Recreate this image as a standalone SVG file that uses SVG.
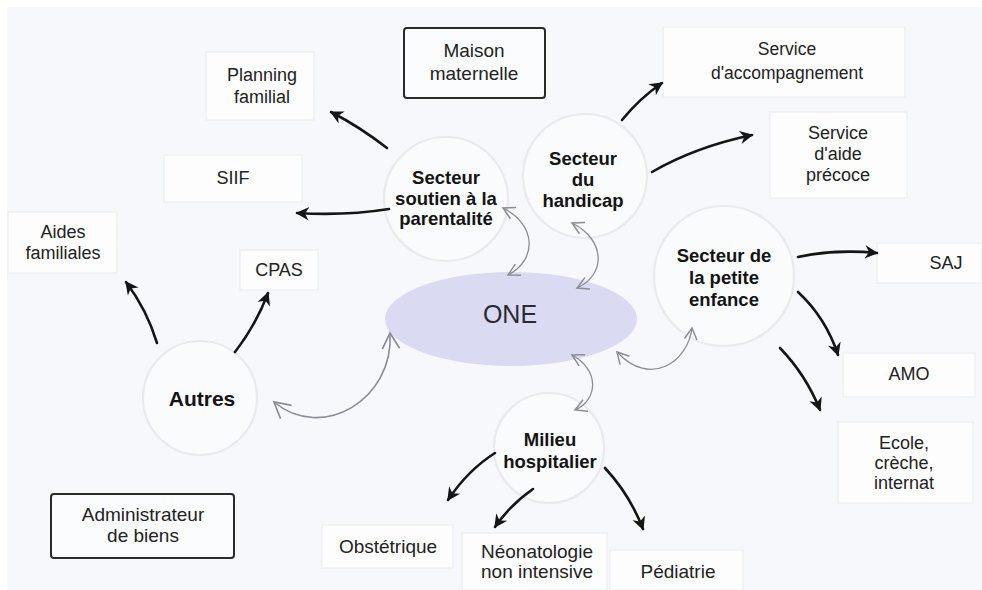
<svg xmlns="http://www.w3.org/2000/svg" width="982" height="590" viewBox="0 0 982 590">
<defs>
<style>
.t{font-family:"Liberation Sans",Arial,sans-serif;font-size:18px;fill:#222;text-anchor:middle}
.b{font-family:"Liberation Sans",Arial,sans-serif;font-size:18.5px;font-weight:bold;fill:#141414;text-anchor:middle}
.box{fill:#fdfdfe;stroke:#eff0f3;stroke-width:1.5}
.dbox{fill:#fbfcfe;stroke:#2a2a2a;stroke-width:2}
.circ{fill:#fafbfd;stroke:#e9eaee;stroke-width:2.2}
.arr{fill:none;stroke:#151515;stroke-width:2.6;stroke-linecap:round;marker-end:url(#ah)}
.gar{fill:none;stroke:#8c8d93;stroke-width:1.3;marker-start:url(#gh);marker-end:url(#gh)}
</style>
<marker id="ah" markerUnits="userSpaceOnUse" markerWidth="16" markerHeight="16" viewBox="0 0 12 12" refX="10" refY="6" orient="auto">
<path d="M1,1 L11,6 L1,11 L4,6 z" fill="#151515"/>
</marker>
<marker id="gh" markerUnits="userSpaceOnUse" markerWidth="16" markerHeight="16" viewBox="0 0 14 14" refX="12" refY="7" orient="auto-start-reverse">
<path d="M2,1.5 L12,7 L2,12.5" fill="none" stroke="#8c8d93" stroke-width="1.3"/>
</marker>
<marker id="gh2" markerUnits="userSpaceOnUse" markerWidth="22" markerHeight="22" viewBox="0 0 14 14" refX="12" refY="7" orient="auto-start-reverse">
<path d="M2,1.5 L12,7 L2,12.5" fill="none" stroke="#8c8d93" stroke-width="1.1"/>
</marker>
</defs>
<rect x="0" y="0" width="982" height="590" fill="#ffffff"/>
<rect x="7" y="7" width="975" height="583" fill="#f6f8fc"/>

<g id="one">
<ellipse cx="511" cy="319" rx="126" ry="47" fill="#dadbf2"/>
<text x="510" y="323" class="t" style="font-size:25px;fill:#2a2a33">ONE</text>
</g>

<g id="secteur-parentalite">
<circle cx="446" cy="199" r="62" class="circ"/>
<text class="b" x="446" y="184">Secteur</text>
<text class="b" x="446" y="205">soutien à la</text>
<text class="b" x="446" y="225">parentalité</text>
</g>
<g id="secteur-handicap">
<circle cx="585" cy="176" r="62" class="circ"/>
<text class="b" x="583" y="165">Secteur</text>
<text class="b" x="583" y="186">du</text>
<text class="b" x="583" y="207">handicap</text>
</g>
<g id="secteur-petite-enfance">
<circle cx="724" cy="276" r="70" class="circ"/>
<text class="b" x="724" y="262">Secteur de</text>
<text class="b" x="724" y="284">la petite</text>
<text class="b" x="724" y="306">enfance</text>
</g>
<g id="autres">
<circle cx="200" cy="398" r="57" class="circ"/>
<text class="b" x="202" y="406" style="font-size:21px">Autres</text>
</g>
<g id="milieu-hospitalier">
<circle cx="549" cy="448" r="55" class="circ"/>
<text class="b" x="550" y="446">Milieu</text>
<text class="b" x="550" y="468">hospitalier</text>
</g>

<g id="maison-maternelle">
<rect x="404" y="28" width="141" height="70" rx="3" class="dbox"/>
<text class="t" x="474" y="57" style="font-size:19px">Maison</text>
<text class="t" x="474" y="80" style="font-size:19px">maternelle</text>
</g>
<g id="administrateur">
<rect x="51" y="494" width="183" height="64" rx="3" class="dbox"/>
<text class="t" x="143" y="521" style="font-size:19px">Administrateur</text>
<text class="t" x="143" y="542" style="font-size:19px">de biens</text>
</g>
<g id="planning-familial">
<rect x="206" y="52" width="108" height="68" class="box"/>
<text class="t" x="262" y="81">Planning</text>
<text class="t" x="262" y="103">familial</text>
</g>
<g id="siif">
<rect x="164" y="155" width="138" height="47" class="box"/>
<text class="t" x="233" y="184">SIIF</text>
</g>
<g id="aides-familiales">
<rect x="8" y="212" width="109" height="61" class="box"/>
<text class="t" x="63" y="238">Aides</text>
<text class="t" x="63" y="259">familiales</text>
</g>
<g id="cpas">
<rect x="240" y="250" width="78" height="40" class="box"/>
<text class="t" x="279" y="276">CPAS</text>
</g>
<g id="service-accompagnement">
<rect x="663" y="27" width="242" height="70" class="box"/>
<text class="t" x="787" y="55" style="font-size:17.5px">Service</text>
<text class="t" x="787" y="79" style="font-size:17.5px">d'accompagnement</text>
</g>
<g id="service-aide-precoce">
<rect x="770" y="112" width="137" height="86" class="box"/>
<text class="t" x="838" y="139">Service</text>
<text class="t" x="838" y="160">d'aide</text>
<text class="t" x="838" y="181">précoce</text>
</g>
<g id="saj">
<rect x="877" y="243" width="105" height="40" class="box"/>
<text class="t" x="946" y="269">SAJ</text>
</g>
<g id="amo">
<rect x="843" y="353" width="132" height="44" class="box"/>
<text class="t" x="909" y="380">AMO</text>
</g>
<g id="ecole">
<rect x="838" y="422" width="135" height="81" class="box"/>
<text class="t" x="904" y="449">Ecole,</text>
<text class="t" x="904" y="469">crèche,</text>
<text class="t" x="904" y="489">internat</text>
</g>
<g id="obstetrique">
<rect x="322" y="525" width="131" height="43" class="box"/>
<text class="t" x="388" y="553" style="font-size:19px">Obstétrique</text>
</g>
<g id="neonatologie">
<rect x="462" y="533" width="145" height="57" class="box"/>
<text class="t" x="537" y="558" style="font-size:19px">Néonatologie</text>
<text class="t" x="537" y="578" style="font-size:19px">non intensive</text>
</g>
<g id="pediatrie">
<rect x="610" y="550" width="133" height="40" class="box"/>
<text class="t" x="678" y="578" style="font-size:19px">Pédiatrie</text>
</g>

<g id="connectors">
<path class="arr" d="M387,148 Q360,127 331,112"/>
<path class="arr" d="M389,209 Q345,216 297,213"/>
<path class="arr" d="M622,120 Q640,98 662,83"/>
<path class="arr" d="M652,172 Q695,147 752,135"/>
<path class="arr" d="M798,257 Q835,249 877,253"/>
<path class="arr" d="M798,292 Q826,318 838,355"/>
<path class="arr" d="M780,348 Q806,375 820,410"/>
<path class="arr" d="M495,453 Q468,470 448,500"/>
<path class="arr" d="M533,489 Q510,505 495,527"/>
<path class="arr" d="M605,468 Q630,495 643,529"/>
<path class="arr" d="M157,343 Q147,310 126,282"/>
<path class="arr" d="M235,352 Q256,325 268,293"/>
<path class="gar" d="M503,208 C537,225 537,260 508,275"/>
<path class="gar" d="M572,223 C606,240 606,275 577,288"/>
<path class="gar" d="M692,328 C688,362 650,388 617,352"/>
<path class="gar" d="M572,355 C600,370 598,400 575,410"/>
<path class="gar" d="M390,333 C394,400 322,442 274,402" style="stroke-width:1.6;marker-start:url(#gh2);marker-end:url(#gh2)"/>
</g>
</svg>
